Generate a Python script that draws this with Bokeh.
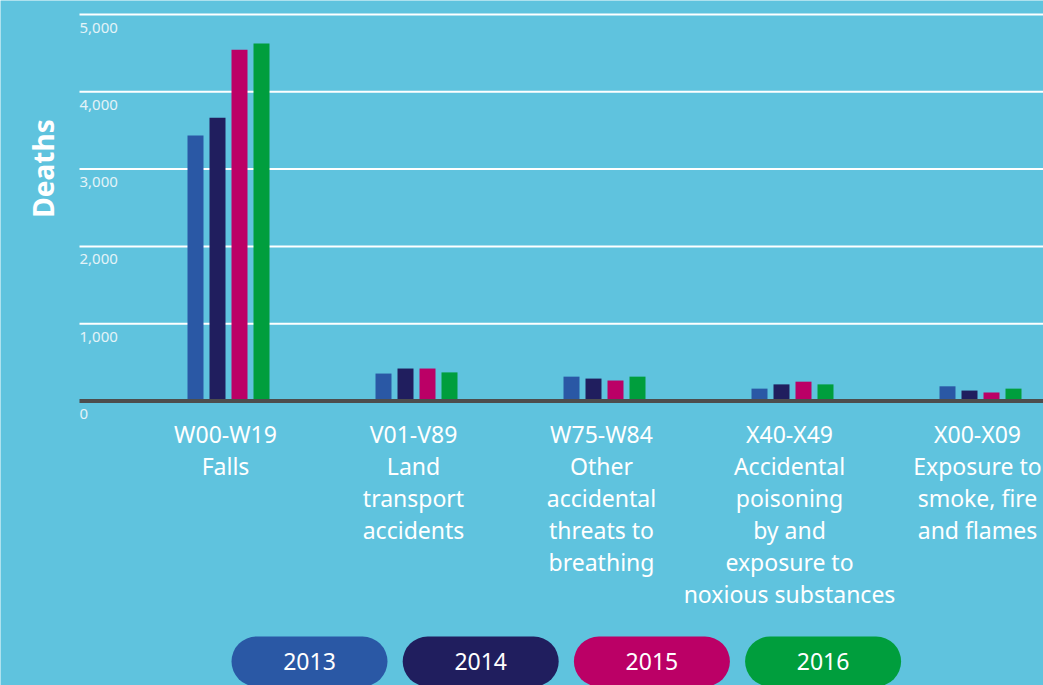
from bokeh.plotting import figure
from bokeh.models import Range1d
from bokeh.core.properties import value
from bokeh.embed import file_html
from bokeh.resources import INLINE

# ---------------- data ----------------
categories = [
    "W00-W19\nFalls",
    "V01-V89\nLand\ntransport\naccidents",
    "W75-W84\nOther\naccidental\nthreats to\nbreathing",
    "X40-X49\nAccidental\npoisoning\nby and\nexposure to\nnoxious substances",
    "X00-X09\nExposure to\nsmoke, fire\nand flames",
]
years = ["2013", "2014", "2015", "2016"]
deaths_2013 = [3435, 355, 315, 160, 190]
deaths_2014 = [3665, 420, 290, 215, 135]
deaths_2015 = [4545, 420, 265, 250, 110]
deaths_2016 = [4625, 370, 315, 215, 160]
y_ticks = [0, 1000, 2000, 3000, 4000, 5000]
y_title = "Deaths"

series = [deaths_2013, deaths_2014, deaths_2015, deaths_2016]
colors = ["#2a58a5", "#201e5e", "#bb0066", "#009e3d"]
BG = "#5fc3de"
FONT = "Noto Sans"

# ---------------- layout (page px -> data) ----------------
OFF = 0                    # page offset of the figure
W, H = 1043, 685           # figure size
PX_PER_CAT = 188.0         # px between category centres
CAT0_PX = 228.0            # page x of first category centre
ZERO_PX = 400.5            # page y of value 0
PX_PER_UNIT = 0.0773       # px per death


def xd(px):
    return (px - CAT0_PX) / PX_PER_CAT


def yd(py):
    return (ZERO_PX - py) / PX_PER_UNIT


x_start, x_end = xd(OFF), xd(OFF + W)
y_end, y_start = yd(OFF), yd(OFF + H)

p = figure(width=W, height=H, output_backend="svg", toolbar_location=None,
           x_range=Range1d(x_start, x_end), y_range=Range1d(y_start, y_end),
           x_axis_location=None, y_axis_location=None,
           min_border=0, min_border_left=0, min_border_right=0,
           min_border_top=0, min_border_bottom=0)
p.grid.visible = False
p.outline_line_color = None
p.background_fill_color = BG
p.border_fill_color = BG

grid_left = xd(79)

# gridlines (not at 0)
gt = [t for t in y_ticks if t != 0]
p.segment(x0=[grid_left] * len(gt), y0=gt, x1=[x_end] * len(gt), y1=gt,
          line_color="white", line_width=2)

# bars
bar_w = 16 / PX_PER_CAT
step = 22 / PX_PER_CAT
for j, (yr, vals) in enumerate(zip(years, series)):
    xs = [i + (j - 1.5) * step for i in range(len(categories))]
    p.vbar(x=xs, top=vals, bottom=0, width=bar_w, fill_color=colors[j],
           line_color=None)

# zero axis line
p.segment(x0=[grid_left], y0=[0], x1=[x_end], y1=[0],
          line_color="#4d4d4d", line_width=4)

# tick labels
p.text(x=[grid_left] * len(y_ticks), y=y_ticks,
       text=[f"{t:,}" for t in y_ticks],
       x_offset=0, y_offset=13,
       text_font=value(FONT), text_font_size="15px", text_color="#e4f3f8",
       text_align="left", text_baseline="alphabetic")

# y title
p.text(x=[xd(42.5)], y=[yd(168)], text=[y_title], angle=1.5707963,
       text_font=value(FONT), text_font_size="28px", text_font_style="bold",
       text_color="white", text_align="center", text_baseline="middle")

# category labels (split into lines)
lx, ly, lt = [], [], []
for i, lab in enumerate(categories):
    for k, line in enumerate(lab.split("\n")):
        lx.append(i)
        ly.append(yd(433 + 32 * k))
        lt.append(line)
p.text(x=lx, y=ly, text=lt, x_offset=-3,
       text_font=value(FONT), text_font_size="23px", text_color="white",
       text_align="center", text_baseline="alphabetic")

# legend pills
pill_cx = [309 + 171.2 * j for j in range(len(years))]
pill_y = yd(661)
p.segment(x0=[xd(c - 53) for c in pill_cx], y0=[pill_y] * len(years),
          x1=[xd(c + 53) for c in pill_cx], y1=[pill_y] * len(years),
          line_color=colors, line_width=50, line_cap="round")
p.text(x=[xd(c) for c in pill_cx], y=[pill_y] * len(years), text=years,
       text_font=value(FONT), text_font_size="23px", text_color="white",
       text_align="center", text_baseline="middle")

open("out.html", "w").write(file_html(p, INLINE))
